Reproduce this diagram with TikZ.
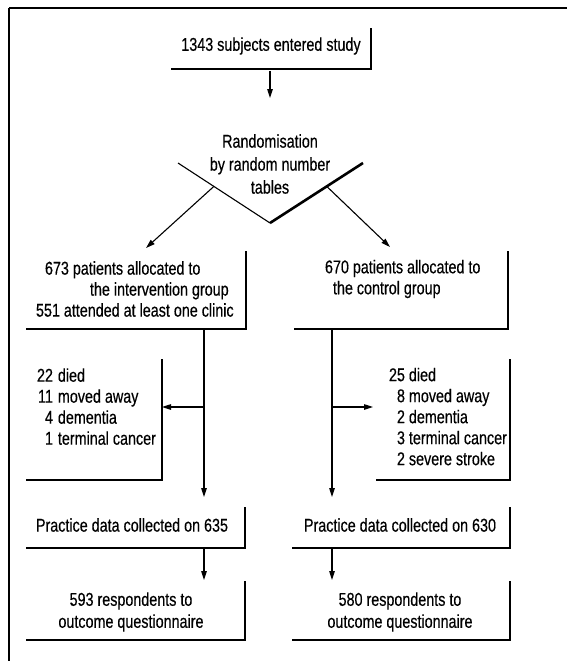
\documentclass[tikz,border=0pt]{standalone}
\usepackage{fontspec}
\setmainfont{Liberation Sans}[FakeStretch=0.775, FakeBold=0.4]
\usetikzlibrary{arrows.meta,calc}
\tikzset{
  bx/.style={inner sep=0pt, outer sep=0pt, draw=none},
  txt/.style={inner sep=0pt, outer sep=0pt},
  edge/.style={line width=2pt, line cap=rect},
  arr/.style={line width=1.1pt, -{Triangle[length=9pt,width=5.5pt]}},
  ln/.style={line width=1.1pt},
}
\newcommand{\boxat}[5]{\node[bx, minimum width=#3-#2, minimum height=#5-#4] (#1) at ({(#2+#3)/2},{(#4+#5)/2}) {};
  \draw[edge] (#1.south west) -- (#1.south east) -- (#1.north east);}
\begin{document}
\begin{tikzpicture}[x=1pt, y=-1pt, font=\fontsize{18.5}{21}\selectfont]
\useasboundingbox (0,0) rectangle (567,661);
% outer frame
\draw[line width=2pt] (567,8) -- (9,8);
\draw[line width=1.4pt] (9,8) -- (9,661);
% boxes (bottom and right edges only)
\boxat{b1}{172}{371}{29}{69}
\boxat{b2}{27}{246}{252}{329}
\boxat{b3}{295}{508}{252}{329}
\boxat{b4}{27}{162}{360}{480}
\boxat{b5}{377}{510}{360}{480}
\boxat{b6}{27}{245}{508}{548}
\boxat{b7}{293}{510}{508}{548}
\boxat{b8}{27}{245}{582}{640}
\boxat{b9}{293}{510}{582}{640}
% texts
\node[txt] (t1) at (271,46) {1343 subjects entered study};
\node[txt, align=center, font=\fontsize{18.5}{23}\selectfont] (rand) at (270,164) {Randomisation\\by random number\\tables};
\node[txt, align=left, anchor=west] (t2) at (36,289) {\hspace*{9pt}673 patients allocated to\\\hspace*{54pt}the intervention group\\551 attended at least one clinic};
\node[txt, align=left, anchor=west] (t3) at (325,279) {670 patients allocated to\\\hspace*{8pt}the control group};
\node[txt, anchor=west] (t4) at (37,409) {\renewcommand{\arraystretch}{1.0}\begin{tabular}{@{}r@{\hspace{5pt}}l@{}}22&died\\11&moved away\\4&dementia\\1&terminal cancer\end{tabular}};
\node[txt, anchor=west] (t5) at (389,419) {\renewcommand{\arraystretch}{1.0}\begin{tabular}{@{}r@{\hspace{4pt}}l@{}}25&died\\8&moved away\\2&dementia\\3&terminal cancer\\2&severe stroke\end{tabular}};
\node[txt] (t6) at (132,525) {Practice data collected on 635};
\node[txt] (t7) at (400,525) {Practice data collected on 630};
\node[txt, align=center, font=\fontsize{18.5}{22}\selectfont] (t8) at (131,612) {593 respondents to\\outcome questionnaire};
\node[txt, align=center, font=\fontsize{18.5}{22}\selectfont] (t9) at (400,612) {580 respondents to\\outcome questionnaire};
% V shape of randomisation
\coordinate (vl) at (178,163);
\coordinate (vb) at (270,223);
\coordinate (vr) at (363,163);
\draw[ln] (vl) -- (vb);
\draw[line width=2.6pt] (vb) -- (vr);
% connectors
\coordinate (a1s) at (270,71);
\coordinate (a1e) at (270,98);
\draw[arr] (a1s) -- (a1e);
\coordinate (ls) at ($(vl)!0.39!(vb)$);
\coordinate (le) at (146,248);
\draw[arr] (ls) -- (le);
\coordinate (rs) at ($(vr)!0.39!(vb)$);
\coordinate (re) at (390,247);
\draw[arr] (rs) -- (re);
% intervention column
\coordinate (ia) at (204,330);
\coordinate (ib) at (204,497);
\coordinate (im) at (204,407);
\draw[arr] (ia) -- (ib);
\draw[arr] (im) -- (b4.east |- im);
\coordinate (ic) at (204,549);
\coordinate (id) at (204,580);
\draw[arr] (ic) -- (id);
% control column
\coordinate (ca) at (332,330);
\coordinate (cb) at (332,497);
\coordinate (cm) at (332,407);
\coordinate (ce) at (373,407);
\draw[arr] (ca) -- (cb);
\draw[arr] (cm) -- (ce);
\coordinate (cc) at (332,549);
\coordinate (cd) at (332,580);
\draw[arr] (cc) -- (cd);
\end{tikzpicture}
\end{document}
